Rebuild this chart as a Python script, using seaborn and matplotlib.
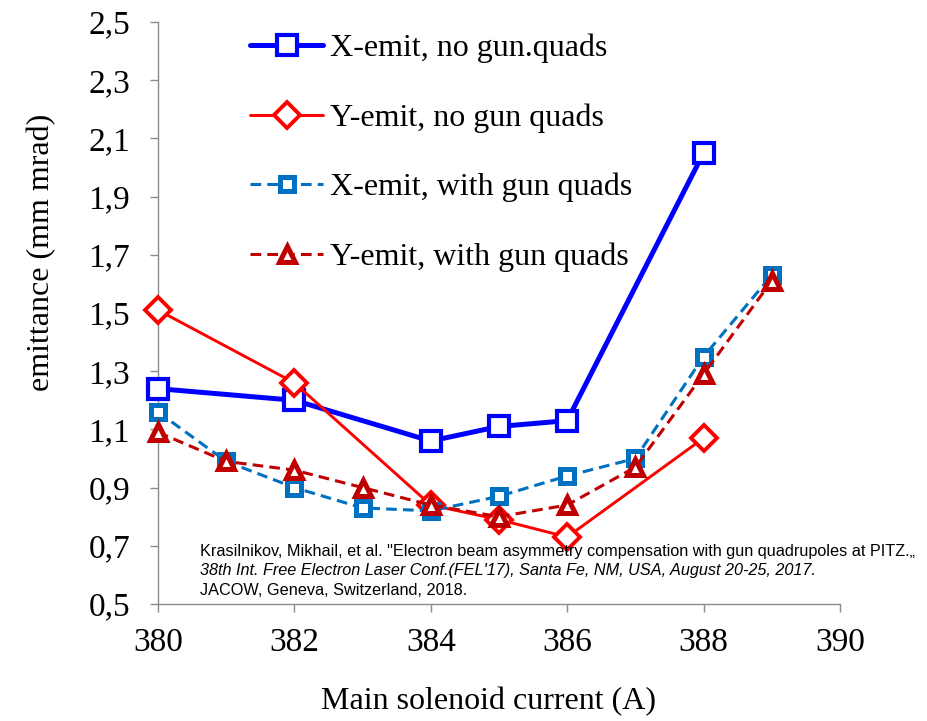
import numpy as np
import pandas as pd
import matplotlib
matplotlib.use("Agg")
import matplotlib.pyplot as plt
import seaborn as sns
from matplotlib.ticker import FuncFormatter

# Solenoid currents (A) and measured emittances (mm mrad)
current_no_quads = [380, 382, 384, 385, 386, 388]
x_emit_no_quads = [1.24, 1.20, 1.06, 1.11, 1.13, 2.05]
y_emit_no_quads = [1.51, 1.26, 0.84, 0.79, 0.73, 1.07]

current_with_quads = [380, 381, 382, 383, 384, 385, 386, 387, 388, 389]
x_emit_with_quads = [1.16, 0.99, 0.90, 0.83, 0.82, 0.87, 0.94, 1.00, 1.35, 1.63]
y_emit_with_quads = [1.09, 0.99, 0.96, 0.90, 0.84, 0.80, 0.84, 0.97, 1.29, 1.61]

labels = ["X-emit, no gun.quads", "Y-emit, no gun quads",
          "X-emit, with gun quads", "Y-emit, with gun quads"]

x_ticks = [380, 382, 384, 386, 388, 390]
y_ticks = [0.5, 0.7, 0.9, 1.1, 1.3, 1.5, 1.7, 1.9, 2.1, 2.3, 2.5]

sns.set_style("ticks")
plt.rcParams["font.family"] = ["Liberation Serif", "DejaVu Serif"]
plt.rcParams["text.color"] = "black"
plt.rcParams["axes.labelcolor"] = "black"

fig = plt.figure(figsize=(9.27, 7.21), dpi=100)
ax = fig.add_axes([0.1704, 0.1623, 0.7357, 0.8072])

frames = [
    pd.DataFrame({"current": current_no_quads, "emit": x_emit_no_quads}),
    pd.DataFrame({"current": current_no_quads, "emit": y_emit_no_quads}),
    pd.DataFrame({"current": current_with_quads, "emit": x_emit_with_quads}),
    pd.DataFrame({"current": current_with_quads, "emit": y_emit_with_quads}),
]
styles = [
    dict(color="#0000FF", lw=3.6, linestyle="-", marker="s", markersize=14,
         markeredgewidth=3.0, markerfacecolor="white", markeredgecolor="#0000FF"),
    dict(color="#FF0000", lw=2.1, linestyle="-", marker="D", markersize=13,
         markeredgewidth=2.8, markerfacecolor="white", markeredgecolor="#FF0000"),
    dict(color="#0070C0", lw=2.2, linestyle=(0, (3.5, 2.0)), marker="s", markersize=10,
         markeredgewidth=3.6, markerfacecolor="white", markeredgecolor="#0070C0"),
    dict(color="#C00000", lw=2.2, linestyle=(0, (3.5, 2.0)), marker="^", markersize=11,
         markeredgewidth=3.6, markerfacecolor="white", markeredgecolor="#C00000"),
]

for df, lab, st in zip(frames, labels, styles):
    sns.lineplot(data=df, x="current", y="emit", ax=ax, label=lab,
                 errorbar=None, sort=False, clip_on=False, **st)

ax.set_xlim(380, 390)
ax.set_ylim(0.5, 2.5)
ax.set_xticks(x_ticks)
ax.set_yticks(y_ticks)
ax.yaxis.set_major_formatter(FuncFormatter(lambda v, p: f"{v:.1f}".replace(".", ",")))
ax.xaxis.set_major_formatter(FuncFormatter(lambda v, p: f"{v:.0f}"))

for side in ("top", "right"):
    ax.spines[side].set_visible(False)
for side in ("left", "bottom"):
    ax.spines[side].set_color("#8c8c8c")
    ax.spines[side].set_linewidth(1.0)
    ax.spines[side].set_zorder(0.5)
ax.tick_params(axis="both", direction="out", length=6, width=1.0, color="#8c8c8c",
               labelsize=24, labelcolor="black")
ax.tick_params(axis="y", pad=14)
ax.tick_params(axis="x", pad=11)

ax.set_xlabel("Main solenoid current (A)", fontsize=23, color="black")
ax.set_ylabel("emittance (mm mrad)", fontsize=23, color="black")
ax.xaxis.set_label_coords(0.484, -0.142)
ax.yaxis.set_label_coords(-0.149, 0.605)

leg = ax.legend(loc="upper left", bbox_to_anchor=(0.13, 0.985), frameon=False,
                fontsize=23, handlelength=2.3, handletextpad=0.2,
                labelspacing=1.25, borderaxespad=0, borderpad=0.1,
                labelcolor="black")

ref_font = ["Liberation Sans", "DejaVu Sans"]
ref_size = 11.7
ax.text(0.062, 0.091,
        "Krasilnikov, Mikhail, et al. \"Electron beam asymmetry compensation with gun quadrupoles at PITZ.\u201e",
        transform=ax.transAxes, fontsize=ref_size, family=ref_font, va="center", color="black")
ax.text(0.062, 0.057,
        "38th Int. Free Electron Laser Conf.(FEL'17), Santa Fe, NM, USA, August 20-25, 2017.",
        transform=ax.transAxes, fontsize=ref_size, family=ref_font, style="italic",
        va="center", color="black")
ax.text(0.062, 0.024, "JACOW, Geneva, Switzerland, 2018.",
        transform=ax.transAxes, fontsize=ref_size, family=ref_font, va="center", color="black")

fig.savefig("out.png", dpi=100, facecolor="white")
